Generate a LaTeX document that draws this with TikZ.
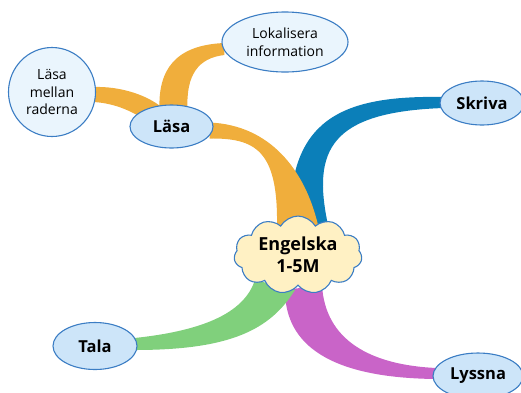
\documentclass[tikz,border=0pt]{standalone}
\usepackage{fontspec}
\setmainfont{Open Sans}
\usetikzlibrary{shapes.geometric,shapes.symbols,calc,backgrounds}
\definecolor{rim}{HTML}{3B7DC4}
\definecolor{leaffill}{HTML}{EAF5FD}
\definecolor{topicfill}{HTML}{CDE5F9}
\definecolor{hubfill}{HTML}{FFF1C4}
\definecolor{lasacol}{HTML}{F0AE3C}
\definecolor{skrivacol}{HTML}{0B7FB9}
\definecolor{talacol}{HTML}{80D07C}
\definecolor{lyssnacol}{HTML}{C964C8}
\begin{document}
\begin{tikzpicture}[x=1pt,y=-1pt,
    leaf/.style={ellipse,draw=rim,line width=1.1pt,fill=leaffill,align=center,inner sep=0pt,
        font=\fontsize{14}{17.5}\selectfont},
    topic/.style={ellipse,draw=rim,line width=1.1pt,fill=topicfill,inner sep=0pt,
        font=\fontsize{16.5}{20}\selectfont\bfseries},
    hub/.style={cloud,cloud puffs=11,cloud puff arc=120,aspect=1.8,draw=rim,line width=1.1pt,
        fill=hubfill,align=center,inner sep=0pt,font=\fontsize{18}{22}\selectfont\bfseries}]
    \useasboundingbox (0,0) rectangle (521,392);
    \node[hub,minimum width=128pt,minimum height=72pt] (eng) at (298,255) {Engelska\\1-5M};
    \node[topic,minimum width=83pt,minimum height=43pt] (lasa) at (171.5,126.5) {Läsa};
    \node[topic,minimum width=84pt,minimum height=44pt] (skriva) at (482,103) {Skriva};
    \node[topic,minimum width=84pt,minimum height=47pt] (tala) at (95,346) {Tala};
    \node[topic,minimum width=90pt,minimum height=46pt] (lyssna) at (478,376) {Lyssna};
    \node[leaf,minimum width=87pt,minimum height=89pt] (rad) at (52,92) {Läsa\\mellan\\raderna};
    \node[leaf,minimum width=126pt,minimum height=60pt] (lok) at (285,42) {Lokalisera\\information};
    \begin{pgfonlayer}{background}
        \fill[skrivacol] ($(skriva.west)+(4,-6)$) .. controls (340,95) and (288,120) .. ($(eng.center)+(-8,-30)$)
            -- ($(eng.center)+(30,-30)$) .. controls (312,150) and (330,112) .. ($(skriva.west)+(4,5)$) -- cycle;
        \fill[lasacol] ($(lasa.east)+(-4,-4)$) .. controls (270,125) and (305,170) .. ($(eng.center)+(20,-30)$)
            -- ($(eng.center)+(-21,-30)$) .. controls (278,150) and (255,138) .. ($(lasa.east)+(-4,12)$) -- cycle;
        \fill[lyssnacol] ($(lyssna.west)+(4,-8)$) .. controls (370,365) and (325,340) .. ($(eng.center)+(24,30)$)
            -- ($(eng.center)+(-13,35)$) .. controls (285,345) and (330,378) .. ($(lyssna.west)+(4,3)$) -- cycle;
        \fill[talacol] ($(tala.east)+(-3,-8)$) .. controls (210,330) and (245,310) .. ($(eng.center)+(-43,25)$)
            -- ($(eng.center)+(-3,35)$) .. controls (270,330) and (230,350) .. ($(tala.east)+(-3,4)$) -- cycle;
        \fill[lasacol] ($(lok.west)+(3,1)$) .. controls (175,45) and (158,70) .. ($(lasa.north)+(-12,5)$)
            -- ($(lasa.north)+(16,5)$) .. controls (186,75) and (198,58) .. ($(lok.west)+(3,13)$) -- cycle;
        \fill[lasacol] ($(rad.east)+(-3,-5)$) .. controls (120,86) and (150,95) .. ($(lasa.center)+(-5,-15)$)
            -- ($(lasa.center)+(-20,-2)$) .. controls (135,112) and (115,103) .. ($(rad.east)+(-3,10)$) -- cycle;
    \end{pgfonlayer}
\end{tikzpicture}
\end{document}
